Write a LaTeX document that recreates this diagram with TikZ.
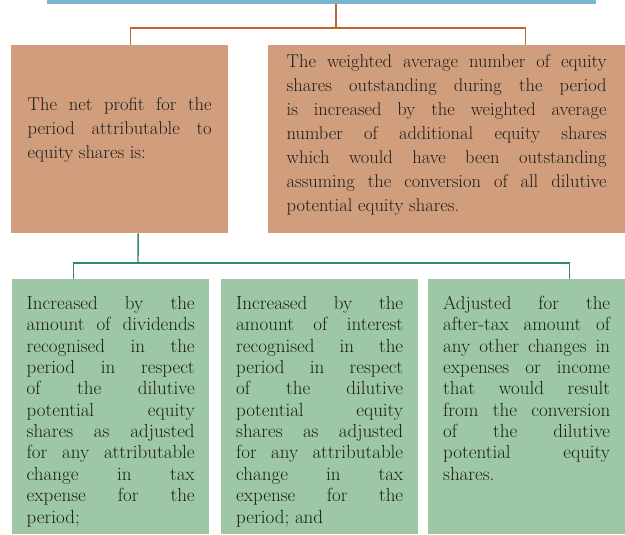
\documentclass[tikz,border=0pt]{standalone}
\usepackage{tikz}
\usetikzlibrary{positioning}
\definecolor{Bar}{HTML}{7AB5D0}
\definecolor{Clay}{HTML}{D09E7C}
\definecolor{Sage}{HTML}{9EC8A5}
\definecolor{Rust}{HTML}{C0632F}
\definecolor{Pine}{HTML}{2E8B6E}
\definecolor{Ink}{HTML}{1C1C1C}
\tolerance=9999
\hbadness=10000
\hyphenpenalty=10000
\exhyphenpenalty=10000
\newcommand{\clayfont}{\fontsize{18.5}{24}\selectfont}
\newcommand{\sagefont}{\fontsize{19}{21.4}\selectfont}

\begin{document}
\begin{tikzpicture}[x=1pt, y=-1pt,
    clay/.style={fill=Clay, text=Ink, anchor=north west, inner sep=0pt, align=justify, font=\clayfont},
    sage/.style={fill=Sage, text=Ink, anchor=north west, inner sep=0pt, align=justify, font=\sagefont,
      minimum width=197pt, text height=30pt, text depth=225pt},
    rust/.style={draw=Rust, line width=1.4pt},
    pine/.style={draw=Pine, line width=1.4pt}]
    \useasboundingbox (0,0) rectangle (625,535);
    \node[fill=Bar, minimum width=549pt, minimum height=4pt, inner sep=0pt, anchor=north west] (head) at (47,0) {};
    % first level
    \node[clay, minimum width=217pt, text width=184pt, text height=65pt, text depth=123pt] (net) at (11,45)
      {The net profit for the \linebreak period attributable to \linebreak equity shares is:};
    \node[clay, minimum width=357pt, text width=320pt, text height=22pt, text depth=166pt] (wavg) at (268,45)
      {The weighted average number of equity \linebreak shares outstanding during the period \linebreak is increased by the weighted average \linebreak number of additional equity shares \linebreak which would have been outstanding \linebreak assuming the conversion of all dilutive \linebreak potential equity shares.};
    % second level
    \node[sage, text width=168pt] (divd) at (12,279)
      {Increased by the \linebreak amount of dividends \linebreak recognised in the \linebreak period in respect \linebreak of the dilutive \linebreak potential equity \linebreak shares as adjusted \linebreak for any attributable \linebreak change in tax \linebreak expense for the \linebreak period;};
    \node[sage, text width=167pt] (intr) at (221,279)
      {Increased by the \linebreak amount of interest \linebreak recognised in the \linebreak period in respect \linebreak of the dilutive \linebreak potential equity \linebreak shares as adjusted \linebreak for any attributable \linebreak change in tax \linebreak expense for the \linebreak period; and};
    \node[sage, text width=167pt] (othr) at (428,279)
      {Adjusted for the \linebreak after-tax amount of \linebreak any other changes in \linebreak expenses or income \linebreak that would result \linebreak from the conversion \linebreak of the dilutive \linebreak potential equity \linebreak shares.};
    % connectors
    \coordinate (obus) at (336,28);
    \coordinate (gbus) at (138,263);
    \draw[rust] (head.south -| obus) -- (obus);
    \draw[rust] ([xshift=10.5pt]net.north) |- (obus) -| ([xshift=78.5pt]wavg.north);
    \draw[pine] ([xshift=18.5pt]net.south) -- (gbus);
    \draw[pine] ([xshift=-37.5pt]divd.north) |- (gbus) -| ([xshift=42.5pt]othr.north);
\end{tikzpicture}
\end{document}
